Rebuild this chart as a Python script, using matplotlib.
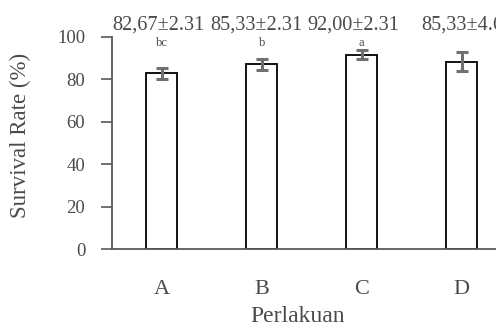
import matplotlib
matplotlib.use("Agg")
import matplotlib.pyplot as plt

categories = ["A", "B", "C", "D"]
survival = [82.7, 87.0, 91.5, 88.3]
errors = [2.5, 2.7, 2.2, 4.5]
value_labels = ["82,67±2.31", "85,33±2.31", "92,00±2.31", "85,33±4.62"]
letters = ["bc", "b", "a", ""]
yticks = [0, 20, 40, 60, 80, 100]

label_offsets = [-0.49, -0.51, -0.545, -0.40]

plt.rcParams['font.family'] = ['Liberation Serif', 'DejaVu Serif']
txt = '#4a4a4a'
W, H = 496, 327
fig = plt.figure(figsize=(W / 100, H / 100), dpi=100)
ax = fig.add_axes([111.7 / W, 78 / H, 400 / W, 212.3 / H])

x = list(range(len(categories)))
ax.bar(x, survival, width=0.31, color='white', edgecolor='black', linewidth=1.3, zorder=2)
ax.errorbar(x, survival, yerr=errors, fmt='none', ecolor='#707070', elinewidth=2.2,
            capsize=4, capthick=2.2, zorder=3)

ax.set_xlim(-0.5, 3.5)
ax.set_ylim(0, 100)
ax.set_yticks(yticks)
ax.set_xticks(x)
ax.set_xticklabels(categories)
for s in ['top', 'right']:
    ax.spines[s].set_visible(False)
for s in ['left', 'bottom']:
    ax.spines[s].set_color('#595959')
    ax.spines[s].set_linewidth(1.3)
ax.tick_params(axis='y', direction='out', length=8, width=1.2, color='#595959',
               labelsize=13.5, labelcolor=txt, pad=11)
ax.tick_params(axis='x', length=0, labelsize=16, labelcolor=txt, pad=22)

for i, (lab, off) in enumerate(zip(value_labels, label_offsets)):
    ax.text(i + off, 103.6, lab, ha='left', va='baseline', fontsize=14.6,
            color=txt, clip_on=False)
for i, let in enumerate(letters):
    if let:
        ax.text(i, 95.6, let, ha='center', va='baseline', fontsize=9,
                color=txt, clip_on=False)

fig.text(20 / W, 1 - 135 / H, "Survival Rate (%)", rotation=90, ha='center', va='center',
         fontsize=16.5, color=txt)
fig.text(298 / W, 5 / H, "Perlakuan", ha='center', va='baseline', fontsize=17, color=txt)

fig.savefig("out.png", dpi=100)
